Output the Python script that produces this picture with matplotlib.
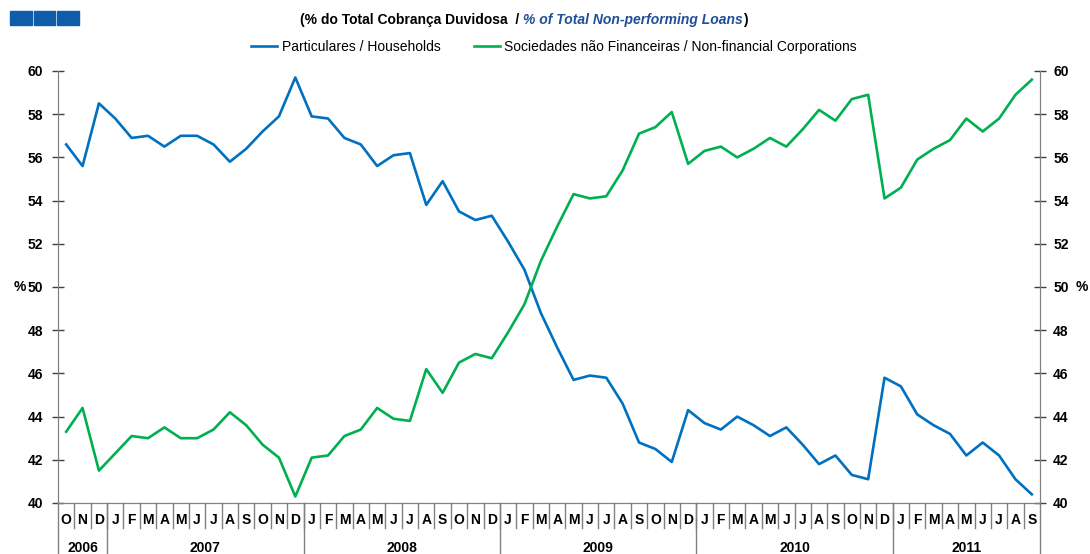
import numpy as np
import matplotlib
matplotlib.use('Agg')
import matplotlib.pyplot as plt
from matplotlib.patches import Rectangle

plt.rcParams['font.family'] = ['Liberation Sans', 'DejaVu Sans']

# ---- data (Oct 2006 - Sep 2011) ----
months = ['O', 'N', 'D'] + ['J', 'F', 'M', 'A', 'M', 'J', 'J', 'A', 'S', 'O', 'N', 'D'] * 4 \
    + ['J', 'F', 'M', 'A', 'M', 'J', 'J', 'A', 'S']
years = ['2006', '2007', '2008', '2009', '2010', '2011']
year_lengths = [3, 12, 12, 12, 12, 9]

households = [
    56.6, 55.6, 58.5,
    57.8, 56.9, 57.0, 56.5, 57.0, 57.0, 56.6, 55.8, 56.4, 57.2, 57.9, 59.7,
    57.9, 57.8, 56.9, 56.6, 55.6, 56.1, 56.2, 53.8, 54.9, 53.5, 53.1, 53.3,
    52.1, 50.8, 48.8, 47.2, 45.7, 45.9, 45.8, 44.6, 42.8, 42.5, 41.9, 44.3,
    43.7, 43.4, 44.0, 43.6, 43.1, 43.5, 42.7, 41.8, 42.2, 41.3, 41.1, 45.8,
    45.4, 44.1, 43.6, 43.2, 42.2, 42.8, 42.2, 41.1, 40.4,
]
corporations = [
    43.3, 44.4, 41.5,
    42.3, 43.1, 43.0, 43.5, 43.0, 43.0, 43.4, 44.2, 43.6, 42.7, 42.1, 40.3,
    42.1, 42.2, 43.1, 43.4, 44.4, 43.9, 43.8, 46.2, 45.1, 46.5, 46.9, 46.7,
    47.9, 49.2, 51.2, 52.8, 54.3, 54.1, 54.2, 55.4, 57.1, 57.4, 58.1, 55.7,
    56.3, 56.5, 56.0, 56.4, 56.9, 56.5, 57.3, 58.2, 57.7, 58.7, 58.9, 54.1,
    54.6, 55.9, 56.4, 56.8, 57.8, 57.2, 57.8, 58.9, 59.6,
]

blue = '#0070C0'
green = '#00B050'
grey = '#808080'

W, H = 1090, 554
fig = plt.figure(figsize=(W / 100, H / 100), dpi=100)
ax = fig.add_axes([58 / W, (H - 503) / H, 982 / W, 432 / H])
ax2 = ax.twinx()

x = np.arange(len(months))
ax.plot(x, households, color=blue, lw=1.9, label='Particulares / Households')
ax.plot(x, corporations, color=green, lw=1.9, label='Sociedades não Financeiras / Non-financial Corporations')

for a in (ax, ax2):
    a.set_ylim(40, 60)
    a.set_yticks(np.arange(40, 61, 2))
    a.set_xlim(-0.5, len(months) - 0.5)
    for s in a.spines.values():
        s.set_color(grey)
    a.spines['top'].set_visible(False)
    a.tick_params(axis='y', direction='inout', length=9, width=1, color='#404040',
                  labelsize=10, pad=5)
    for lab in a.get_yticklabels():
        lab.set_fontweight('bold')
ax.tick_params(axis='y', pad=6)
ax.set_xticks([])

# % unit marks next to 50
fig.text(20 / W, 1 - 287 / H, '%', fontsize=10, fontweight='bold', ha='center', va='center')
fig.text(1082 / W, 1 - 287 / H, '%', fontsize=10, fontweight='bold', ha='center', va='center')

# ---- month / year category axis ----
trans = ax.get_xaxis_transform()
y_month_sep = -25 / 432
y_year_sep = -52 / 432
for i, m in enumerate(months):
    ax.text(i, -17 / 432, m, transform=trans, ha='center', va='center',
            fontsize=10, fontweight='bold', clip_on=False)
    if i > 0:
        ax.plot([i - 0.5, i - 0.5], [0, y_month_sep], transform=trans, color=grey,
                lw=1, clip_on=False)

start = 0
bounds = [-0.5]
for yr, n in zip(years, year_lengths):
    ax.text(start + (n - 1) / 2, -45 / 432, yr, transform=trans, ha='center', va='center',
            fontsize=10, fontweight='bold', clip_on=False)
    start += n
    bounds.append(start - 0.5)
for b in bounds:
    ax.plot([b, b], [0, y_year_sep], transform=trans, color=grey, lw=1, clip_on=False)

# ---- header: squares, subtitle, legend ----
for x0 in (10, 33.5, 57):
    fig.patches.append(Rectangle((x0 / W, 1 - 25 / H), 21.5 / W, 14 / H,
                                 transform=fig.transFigure, color='#0F5CA8'))

t1 = fig.text(300 / W, 1 - 20 / H, '(% do Total Cobrança Duvidosa  / ', fontsize=10,
              fontweight='bold', va='center', ha='left')
t2 = fig.text(0, 0, '% of Total Non-performing Loans', fontsize=10, fontweight='bold',
              style='italic', color='#1F4E9A', va='center', ha='left')
t3 = fig.text(0, 0, ')', fontsize=10, fontweight='bold', va='center', ha='left')
fig.canvas.draw()
r = fig.canvas.get_renderer()
bb1 = t1.get_window_extent(r)
t2.set_position((bb1.x1 / W, 1 - 20 / H))
bb2 = t2.get_window_extent(r)
t3.set_position((bb2.x1 / W, 1 - 20 / H))

fig.legend(loc='center', bbox_to_anchor=(554 / W, 1 - 47 / H), ncol=2, frameon=False,
           fontsize=10, handlelength=1.9, handletextpad=0.3, columnspacing=2.4)

fig.savefig('out.png', dpi=100)
